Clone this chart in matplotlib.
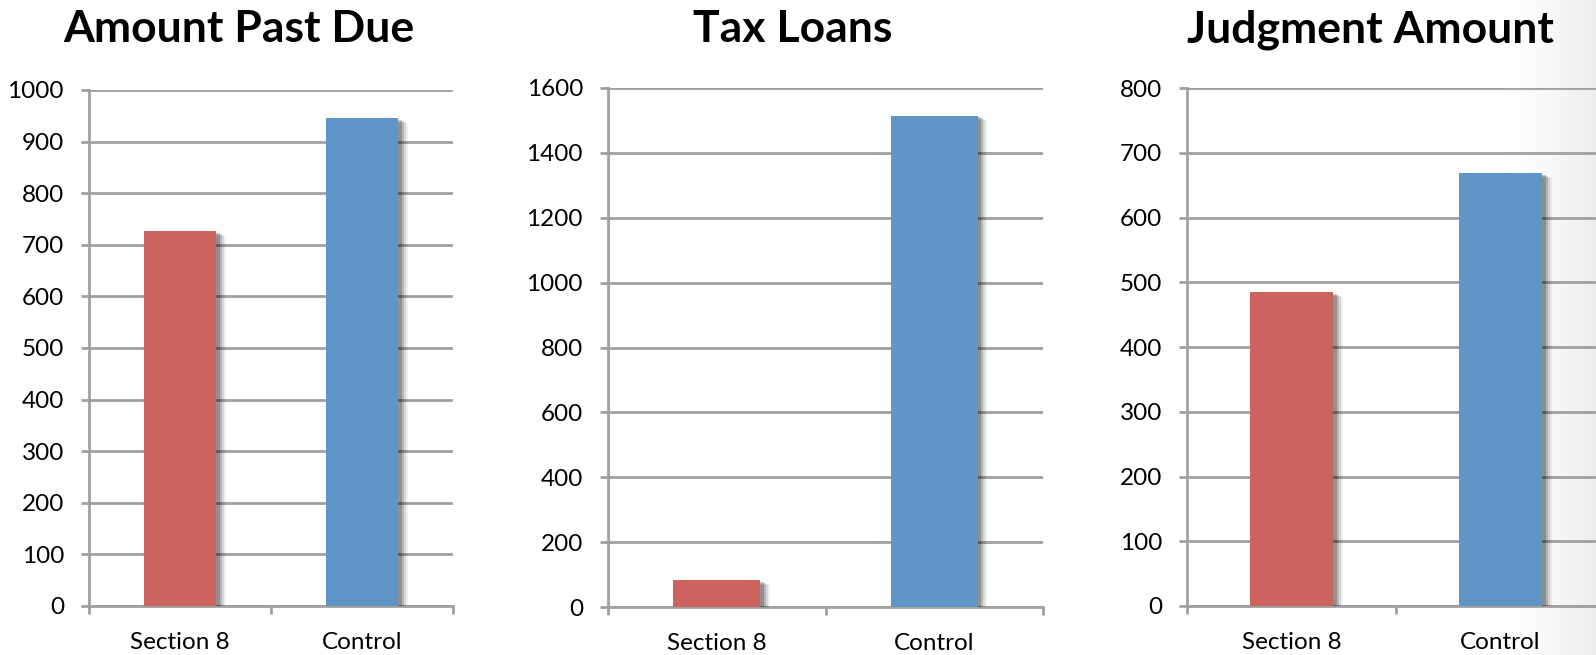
import matplotlib
matplotlib.use("Agg")
import matplotlib.pyplot as plt
import matplotlib.patheffects as pe
import numpy as np

plt.rcParams['font.family'] = ['Lato', 'DejaVu Sans']

categories = ["Section 8", "Control"]
titles = ["Amount Past Due", "Tax Loans", "Judgment Amount"]
amount_past_due = [726, 945]
tax_loans = [83, 1515]
judgment_amount = [485, 669]
series = [amount_past_due, tax_loans, judgment_amount]
y_max = [1000, 1600, 800]
y_step = [100, 200, 100]
bar_colors = ["#CC645D", "#6095C7"]

W, H = 1596, 655
fig = plt.figure(figsize=(W / 100, H / 100), dpi=100)

# subtle gray gradient on the right edge of the slide
gax = fig.add_axes([1500 / W, 0, 96 / W, 1], zorder=0)
grad = np.linspace(0, 1, 200) ** 1.5
gax.imshow(np.tile(grad, (10, 1)), aspect='auto',
           cmap=matplotlib.colors.LinearSegmentedColormap.from_list('g', ['#FFFFFF', '#EDEDED']),
           extent=[0, 1, 0, 1], vmin=0, vmax=1)
gax.axis('off')

# axes boxes in pixels: left, right, top, bottom
boxes = [(89, 453, 90, 606), (608, 1043, 88, 607), (1187, 1605, 88, 606)]
title_x = [0.412, 0.425, 0.438]

grid_color = "#A0A0A0"
for i, (l, r, t, b) in enumerate(boxes):
    ax = fig.add_axes([l / W, (H - b) / H, (r - l) / W, (b - t) / H], zorder=2)
    ax.set_facecolor('none')
    x = np.arange(len(categories))
    shadows = [pe.SimplePatchShadow(offset=(o, -o * 0.5), shadow_rgbFace='#000000', alpha=a)
               for o, a in [(7, 0.06), (5.5, 0.10), (4, 0.15), (2.5, 0.2)]]
    ax.bar(x, series[i], width=0.4, color=bar_colors, zorder=3,
           path_effects=shadows + [pe.Normal()])
    ax.set_xlim(-0.5, 1.5)
    ax.set_ylim(0, y_max[i])
    ax.set_yticks(np.arange(0, y_max[i] + 1, y_step[i]))
    ax.yaxis.grid(True, color=grid_color, linewidth=2.0, zorder=0)
    ax.set_axisbelow(True)
    ax.set_xticks([-0.5, 0.5, 1.5])
    ax.set_xticklabels([])
    ax.set_xticks(x, minor=True)
    ax.set_xticklabels(categories, minor=True)
    ax.tick_params(axis='x', which='minor', length=0, pad=19, labelsize=17.5)
    ax.tick_params(axis='x', which='major', length=6, width=2, color=grid_color, direction='out')
    ax.tick_params(axis='y', length=6, width=2, color=grid_color, pad=12, labelsize=17.5)
    for s in ['top', 'right']:
        ax.spines[s].set_visible(False)
    for s in ['left', 'bottom']:
        ax.spines[s].set_color(grid_color)
        ax.spines[s].set_linewidth(2.0)
    ax.text(title_x[i], 1 - 42 / H, titles[i],
            transform=matplotlib.transforms.blended_transform_factory(ax.transAxes, fig.transFigure),
            ha='center', va='baseline', fontsize=32, fontweight='bold', color='black')

fig.savefig("out.png", dpi=100)
